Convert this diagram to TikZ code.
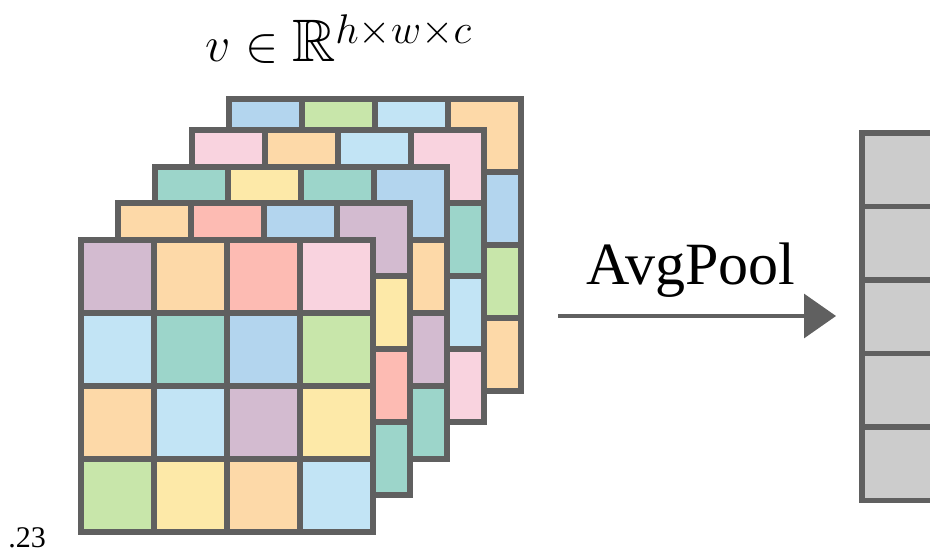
\documentclass[tikz,border=0pt]{standalone}
\usepackage{amssymb}
\usepackage{fontspec}
\setmainfont{Liberation Serif}
\usetikzlibrary{arrows.meta}

\definecolor{gridline}{HTML}{606060}
\definecolor{cPurple}{HTML}{D3BBD0}
\definecolor{cOrange}{HTML}{FDD9A8}
\definecolor{cSalmon}{HTML}{FDBBB3}
\definecolor{cPink}{HTML}{F9D3DF}
\definecolor{cSky}{HTML}{C2E4F5}
\definecolor{cTeal}{HTML}{9CD5CA}
\definecolor{cBlue}{HTML}{B3D5EE}
\definecolor{cGreen}{HTML}{C8E6AA}
\definecolor{cYellow}{HTML}{FDE9A8}
\definecolor{vecgray}{HTML}{CCCCCC}

% one 4x4 feature map: #1,#2 top left corner, #3 the 16 cell colours row by row
\newcommand\featmap[3]{%
  \foreach \col [count=\i from 0] in {#3} {
    \pgfmathtruncatemacro\row{\i/4}
    \pgfmathtruncatemacro\clm{mod(\i,4)}
    \filldraw[cell, fill=\col] (#1+\clm*73, #2+\row*73) rectangle ++(73,73);
  }
}

\begin{document}
\begin{tikzpicture}[x=0.5pt, y=-0.5pt,
  cell/.style={draw=gridline, line width=2.8pt},
  big/.style={font=\fontsize{30}{36}\selectfont}]
  \useasboundingbox (0,0) rectangle (930,560);
  \clip (0,0) rectangle (930,560);

  \featmap{229}{99}{cBlue,cGreen,cSky,cOrange, cSky,cTeal,cYellow,cBlue, cPink,cOrange,cSky,cGreen, cYellow,cBlue,cPink,cOrange}
  \featmap{192}{130}{cPink,cOrange,cSky,cPink, cGreen,cBlue,cOrange,cTeal, cOrange,cPurple,cYellow,cSky, cBlue,cGreen,cTeal,cPink}
  \featmap{155}{167}{cTeal,cYellow,cTeal,cBlue, cPink,cSky,cGreen,cOrange, cYellow,cBlue,cSalmon,cPurple, cSky,cOrange,cGreen,cTeal}
  \featmap{118}{203}{cOrange,cSalmon,cBlue,cPurple, cTeal,cGreen,cSky,cYellow, cBlue,cPink,cOrange,cSalmon, cGreen,cYellow,cPurple,cTeal}
  \featmap{81}{240}{cPurple,cOrange,cSalmon,cPink, cSky,cTeal,cBlue,cGreen, cOrange,cSky,cPurple,cYellow, cGreen,cYellow,cOrange,cSky}

  \node[big, anchor=base] (shape) at (339,62) {$v \in \mathbb{R}^{h\times w\times c}$};

  \coordinate (pool-in) at (558,316);
  \coordinate (pool-out) at (836,316);
  \draw[gridline, line width=1.6pt, -{Triangle[length=16pt, width=22pt]}] (pool-in) -- (pool-out);
  \node[big, anchor=base] (pool-label) at (691,285) {AvgPool};

  \foreach \r in {0,...,4}
    \filldraw[cell, fill=vecgray] (862,133+\r*73.5) rectangle ++(120,73.5);

  \node[anchor=base, font=\fontsize{15}{17}\selectfont] (note) at (27,547) {.23};
\end{tikzpicture}
\end{document}
